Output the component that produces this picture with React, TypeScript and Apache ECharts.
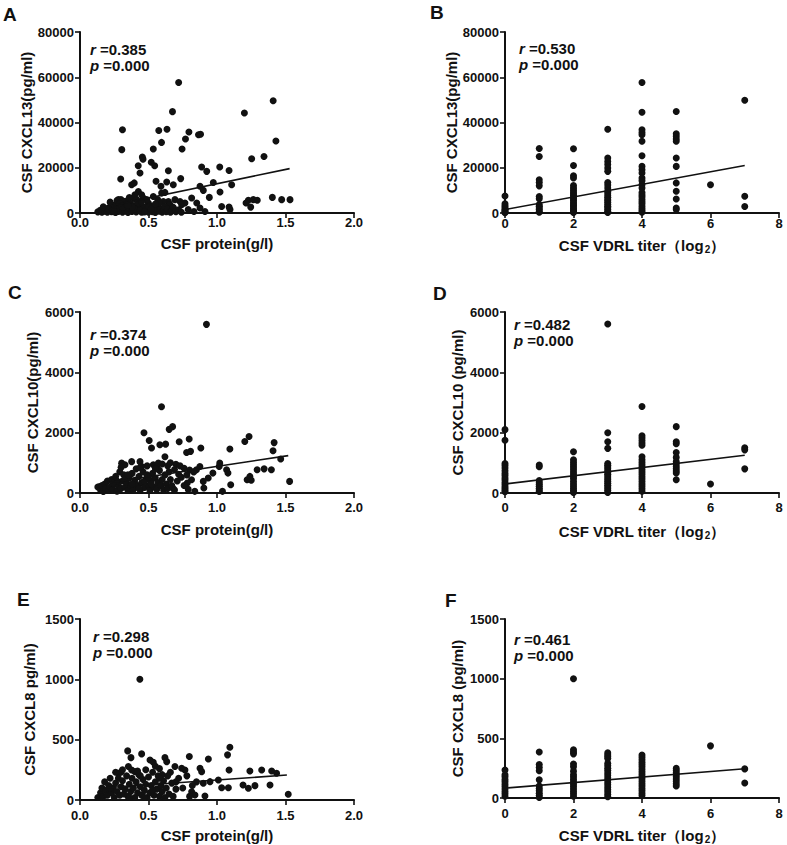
import React, { useEffect, useRef } from 'react';
import * as echarts from 'echarts';

const FONT = '"Liberation Sans", Arial, Helvetica, sans-serif';
const INK = '#111111';

// ---------- data ----------
const titerLevels = [0, 1, 2, 3, 4, 5, 6, 7];

const proteinCXCL13: number[][] = [
  [0.72, 57700], [1.41, 49600], [0.675, 44800], [1.2, 44200], [0.31, 36800], [0.575, 36500], [0.635, 37000],
  [0.795, 35800], [0.77, 32700], [0.865, 34600], [0.88, 34800], [0.595, 31200], [1.43, 31800], [0.305, 28000],
  [0.535, 28300], [0.745, 28300], [0.455, 24700], [0.46, 23800], [0.52, 22400], [0.545, 20900], [0.425, 20900],
  [0.438, 17700], [0.645, 18700], [0.888, 20300], [0.925, 18400], [1.02, 20300], [1.088, 18800], [1.253, 24000],
  [1.343, 25000], [0.297, 15000], [0.377, 12500], [0.396, 13300], [0.555, 14000], [0.591, 11800], [0.633, 13700],
  [0.681, 12500], [0.735, 15200], [0.876, 11800], [0.973, 13500], [1.107, 12500], [0.9, 10000], [1.022, 9300],
  [0.944, 6900], [1.404, 6900], [1.472, 5900], [1.533, 5900], [1.229, 5600], [1.265, 5900], [1.294, 5600],
  [1.212, 4400], [1.246, 2600], [1.034, 2900], [1.088, 2600], [1.095, 1500], [0.815, 6600], [0.852, 4400],
  [0.876, 2200], [0.912, 700], [0.766, 4400], [0.79, 1500], [0.832, 700], [0.693, 5900], [0.73, 5100],
  [0.742, 3700], [0.645, 5100], [0.657, 3700], [0.681, 2200], [0.596, 8800], [0.62, 9100], [0.567, 5900],
  [0.608, 5100], [0.535, 7300], [0.499, 4400], [0.426, 9500], [0.45, 8100], [0.401, 8100], [0.28, 5900],
  [0.299, 5900], [0.389, 6600], [0.414, 5900], [0.462, 6600], [0.487, 5900],
  [0.13, 500], [0.15, 1200], [0.16, 300], [0.18, 800], [0.19, 2000], [0.2, 400], [0.21, 1500], [0.22, 2800],
  [0.23, 600], [0.24, 1000], [0.25, 3500], [0.26, 200], [0.27, 1800], [0.28, 700], [0.29, 2500], [0.3, 1200],
  [0.31, 400], [0.32, 3000], [0.33, 900], [0.34, 1600], [0.35, 200], [0.36, 2200], [0.37, 4200], [0.38, 700],
  [0.39, 1300], [0.4, 3000], [0.41, 500], [0.42, 2000], [0.43, 1000], [0.44, 3800], [0.45, 300], [0.46, 1500],
  [0.47, 2600], [0.48, 800], [0.49, 1900], [0.5, 400], [0.51, 3200], [0.52, 1100], [0.53, 600], [0.54, 2400],
  [0.55, 200], [0.56, 1500], [0.57, 3500], [0.58, 800], [0.59, 2000], [0.6, 400], [0.61, 1200], [0.62, 2800],
  [0.63, 600], [0.64, 1700], [0.66, 300], [0.67, 1000], [0.68, 2500], [0.7, 600], [0.72, 1400], [0.74, 300],
  [0.22, 4800], [0.27, 5500], [0.33, 5200], [0.36, 6800], [0.42, 4500], [0.17, 2800], [0.31, 2600], [0.4, 1800],
  [0.5, 2500], [0.34, 4000], [0.45, 5000], [0.25, 600], [0.38, 2600], [0.44, 1200], [0.52, 1800], [0.58, 4500],
  [0.47, 500], [0.29, 4200], [0.35, 3400], [0.55, 4000],
];

const cxcl13ByTiter: number[][] = [
  [7500, 4100, 3200, 2500, 1700, 1300, 800, 450, 100],
  [28500, 25000, 14700, 13500, 12000, 7300, 6300, 3700, 3000, 2200, 1500, 700, 300],
  [28400, 21000, 16500, 15500, 12100, 11000, 10100, 9200, 8400, 7700, 7000, 6200, 5500, 4700, 4000, 3300, 2700, 1900, 1200, 600, 200],
  [37000, 24300, 22800, 21400, 19900, 18400, 13500, 12400, 11000, 9600, 8800, 7800, 7000, 6100, 5400, 4600, 3800, 3000, 2300, 1500, 800, 200],
  [57700, 44500, 36800, 35600, 34600, 31700, 25300, 20600, 19100, 17700, 15500, 14300, 12500, 11000, 9100, 8000, 7100, 6000, 5000, 4100, 3000, 2000, 1100, 300],
  [44900, 35000, 33900, 32700, 31700, 24300, 20600, 13300, 9600, 6200, 2200, 1500],
  [12500],
  [49800, 7400, 2900],
];

const proteinCXCL10: number[][] = [
  [0.923, 5590], [0.595, 2860], [0.676, 2200], [0.651, 2110], [0.467, 2000], [0.505, 1740], [0.522, 1490],
  [0.583, 1600], [0.625, 1620], [0.724, 1700], [0.797, 1790], [0.778, 1340], [0.807, 1380], [0.882, 1490],
  [1.094, 1460], [1.203, 1710], [1.234, 1870], [1.417, 1670], [1.409, 1400], [1.53, 385], [1.465, 1130],
  [1.293, 770], [1.344, 800], [1.397, 770], [1.22, 440], [1.24, 550], [1.25, 420], [1.1, 275], [1.07, 770],
  [1.08, 660], [1.02, 990], [1.016, 880], [0.97, 660], [0.936, 495], [0.9, 385], [0.904, 165], [0.838, 55],
  [1.04, 55], [0.814, 440], [0.783, 330], [0.85, 770], [0.875, 880],
  [0.304, 990], [0.328, 935], [0.377, 1040], [0.438, 1040], [0.45, 880], [0.535, 935], [0.572, 990], [0.6, 960],
  [0.64, 900], [0.66, 1000], [0.7, 950], [0.73, 900], [0.76, 820], [0.8, 760], [0.72, 620], [0.74, 520],
  [0.78, 600], [0.69, 780], [0.65, 700], [0.83, 700], [0.62, 1200], [0.56, 850], [0.71, 400], [0.76, 250],
  [0.79, 120], [0.68, 150],
  [0.13, 200], [0.15, 100], [0.16, 250], [0.17, 50], [0.18, 300], [0.19, 150], [0.2, 400], [0.21, 80],
  [0.22, 200], [0.23, 450], [0.24, 120], [0.25, 300], [0.26, 550], [0.27, 60], [0.28, 250], [0.29, 700],
  [0.3, 150], [0.31, 400], [0.32, 600], [0.33, 200], [0.34, 350], [0.35, 80], [0.36, 500], [0.37, 250],
  [0.38, 650], [0.39, 120], [0.4, 420], [0.41, 800], [0.42, 250], [0.43, 550], [0.44, 100], [0.45, 350],
  [0.46, 700], [0.47, 180], [0.48, 450], [0.49, 600], [0.5, 250], [0.51, 80], [0.52, 400], [0.53, 650],
  [0.54, 200], [0.55, 500], [0.56, 120], [0.57, 350], [0.58, 750], [0.59, 250], [0.6, 450], [0.61, 100],
  [0.62, 600], [0.63, 300], [0.64, 150], [0.66, 450], [0.67, 250], [0.69, 100], [0.27, 400], [0.33, 480],
  [0.4, 280], [0.47, 380], [0.52, 300], [0.35, 600], [0.24, 330], [0.44, 850], [0.49, 900], [0.3, 850],
  [0.55, 800], [0.38, 300], [0.43, 150], [0.5, 520],
];

const cxcl10ByTiter: number[][] = [
  [2100, 1750, 980, 910, 830, 740, 650, 580, 500, 430, 350, 280, 210, 150, 90, 40],
  [930, 870, 410, 340, 280, 220, 160, 100, 50],
  [1370, 1100, 1020, 940, 860, 790, 700, 620, 540, 470, 380, 300, 220, 150, 80, 20],
  [5600, 2000, 1700, 1480, 980, 920, 860, 800, 740, 680, 620, 560, 500, 440, 380, 320, 260, 200, 140, 80, 20],
  [2870, 1900, 1820, 1740, 1660, 1580, 1200, 1100, 1020, 940, 860, 780, 700, 620, 540, 460, 380, 300, 220, 140, 60],
  [2200, 1700, 1630, 1340, 1180, 1040, 960, 880, 800, 730, 660, 440],
  [300],
  [1500, 1430, 800],
];

const proteinCXCL8: number[][] = [
  [0.437, 1000], [1.094, 437], [1.077, 374], [0.348, 407], [0.372, 351], [0.45, 382], [0.511, 332], [0.535, 313],
  [0.62, 351], [0.633, 318], [0.798, 360], [0.937, 340], [0.353, 277], [0.377, 249], [0.401, 235], [0.28, 222],
  [0.299, 230], [0.693, 277], [0.766, 249], [0.742, 263], [0.876, 263], [0.888, 235], [1.088, 249], [1.24, 241],
  [1.326, 249], [1.399, 241], [1.435, 222], [0.9, 139], [0.949, 152], [1.01, 166], [1.034, 102], [1.083, 102],
  [1.19, 124], [1.229, 97], [1.277, 119], [1.387, 124], [1.52, 47], [0.815, 69], [0.839, 41], [0.912, 33],
  [0.85, 150], [0.82, 120], [0.78, 200], [0.72, 180], [0.7, 150], [0.75, 100], [0.8, 30], [0.66, 230],
  [0.58, 260], [0.6, 210], [0.55, 280],
  [0.13, 20], [0.15, 60], [0.16, 100], [0.17, 30], [0.18, 150], [0.19, 80], [0.2, 40], [0.21, 120], [0.22, 180],
  [0.23, 60], [0.24, 100], [0.25, 20], [0.26, 140], [0.27, 70], [0.28, 180], [0.29, 40], [0.3, 110], [0.31, 160],
  [0.32, 50], [0.33, 90], [0.34, 200], [0.35, 30], [0.36, 130], [0.37, 70], [0.38, 180], [0.39, 100], [0.4, 20],
  [0.41, 150], [0.42, 60], [0.43, 210], [0.44, 110], [0.45, 40], [0.46, 170], [0.47, 80], [0.48, 130], [0.49, 20],
  [0.5, 190], [0.51, 60], [0.52, 120], [0.53, 230], [0.54, 40], [0.55, 150], [0.56, 90], [0.57, 200], [0.58, 30],
  [0.59, 120], [0.6, 70], [0.61, 160], [0.62, 20], [0.63, 100], [0.64, 200], [0.65, 50], [0.67, 140], [0.68, 30],
  [0.7, 90], [0.26, 230], [0.31, 250], [0.42, 240], [0.48, 250], [0.36, 20], [0.44, 200], [0.22, 100],
  [0.53, 80], [0.47, 20], [0.58, 180],
];

const cxcl8ByTiter: number[][] = [
  [235, 195, 178, 155, 137, 115, 96, 75, 55, 35, 15],
  [385, 280, 255, 228, 152, 100, 80, 60, 40, 20, 5],
  [1000, 405, 385, 370, 285, 262, 225, 195, 176, 155, 135, 115, 96, 75, 55, 35, 15],
  [378, 360, 345, 330, 290, 270, 250, 231, 210, 190, 170, 150, 130, 110, 90, 70, 50, 30, 10],
  [360, 342, 320, 300, 280, 262, 240, 220, 200, 180, 161, 140, 120, 100, 80, 60, 40, 20],
  [248, 230, 212, 195, 178, 160, 140, 120, 100],
  [437],
  [244, 125],
];

// regression lines: [start, end]
const fitProteinCXCL13 = [[0.13, 2000], [1.53, 19600]];
const fitTiterCXCL13 = [[0, 1500], [7, 21000]];
const fitProteinCXCL10 = [[0.13, 285], [1.52, 1240]];
const fitTiterCXCL10 = [[0, 300], [7, 1250]];
const fitProteinCXCL8 = [[0.14, 97], [1.51, 207]];
const fitTiterCXCL8 = [[0, 83], [7, 245]];

const rValues = ['0.385', '0.530', '0.374', '0.482', '0.298', '0.461'];
const pValues = ['0.000', '0.000', '0.000', '0.000', '0.000', '0.000'];

const byTiter = (groups: number[][]) =>
  groups.flatMap((vals, i) => vals.map((v) => [titerLevels[i], v]));

// ---------- layout ----------
const proteinAxis = { max: 2, interval: 0.5, dec: 1, name: 'CSF protein(g/l)' };
const titerAxis = { max: 8, interval: 2, dec: 0, name: 'CSF VDRL titer（log{sub|2}）' };

const panels = [
  { letter: 'A', lx: 3, ly: 14, grid: { left: 80, top: 32, width: 274, height: 181 }, pts: proteinCXCL13, fit: fitProteinCXCL13, xa: proteinAxis, yMax: 80000, yInt: 20000, yName: 'CSF CXCL13(pg/ml)', yGap: 45, xLabM: 3, xGap: 23, sx: 90, sy: 49 },
  { letter: 'B', lx: 430, ly: 12, grid: { left: 505, top: 32, width: 274, height: 181 }, pts: byTiter(cxcl13ByTiter), fit: fitTiterCXCL13, xa: titerAxis, yMax: 80000, yInt: 20000, yName: 'CSF CXCL13(pg/ml)', yGap: 43, xLabM: 4, xGap: 23, sx: 519, sy: 48 },
  { letter: 'C', lx: 8, ly: 292, grid: { left: 80, top: 312, width: 274, height: 181 }, pts: proteinCXCL10, fit: fitProteinCXCL10, xa: proteinAxis, yMax: 6000, yInt: 2000, yName: 'CSF CXCL10(pg/ml)', yGap: 40, xLabM: 8, xGap: 29, sx: 90, sy: 334 },
  { letter: 'D', lx: 433, ly: 293, grid: { left: 505, top: 312, width: 274, height: 181 }, pts: byTiter(cxcl10ByTiter), fit: fitTiterCXCL10, xa: titerAxis, yMax: 6000, yInt: 2000, yName: 'CSF CXCL10 (pg/ml)', yGap: 40, xLabM: 8, xGap: 29, sx: 514, sy: 324 },
  { letter: 'E', lx: 17, ly: 599, grid: { left: 80, top: 619, width: 274, height: 181 }, pts: proteinCXCL8, fit: fitProteinCXCL8, xa: proteinAxis, yMax: 1500, yInt: 500, yName: 'CSF CXCL8 pg/ml)', yGap: 43, xLabM: 9, xGap: 28, sx: 93, sy: 636 },
  { letter: 'F', lx: 445, ly: 600, grid: { left: 505, top: 619, width: 274, height: 181 }, pts: byTiter(cxcl8ByTiter), fit: fitTiterCXCL8, xa: titerAxis, yMax: 1500, yInt: 500, yName: 'CSF CXCL8 (pg/ml)', yGap: 40, xLabM: 9, xGap: 28, sx: 514, sy: 639 },
];

function buildOption() {
  const grid: any[] = [];
  const xAxis: any[] = [];
  const yAxis: any[] = [];
  const series: any[] = [];
  const graphic: any[] = [];

  const axisCommon = {
    axisLine: { show: true, lineStyle: { color: INK, width: 2 } },
    axisTick: { show: true, length: 5, lineStyle: { color: INK, width: 1.6 } },
    splitLine: { show: false },
  };

  panels.forEach((p, i) => {
    grid.push({ ...p.grid, containLabel: false });
    xAxis.push({
      ...axisCommon,
      gridIndex: i,
      type: 'value',
      min: 0,
      max: p.xa.max,
      interval: p.xa.interval,
      axisLabel: {
        color: INK, fontSize: 13, fontWeight: 'bold', fontFamily: FONT, margin: p.xLabM,
        formatter: (v: number) => v.toFixed(p.xa.dec),
      },
      name: p.xa.name,
      nameLocation: 'middle',
      nameGap: p.xGap,
      nameTextStyle: {
        color: INK, fontSize: 15, fontWeight: 'bold', fontFamily: FONT,
        rich: { sub: { fontSize: 10, fontWeight: 'bold', fontFamily: FONT, color: INK, padding: [8, 0, 0, 1] } },
      },
    });
    yAxis.push({
      ...axisCommon,
      gridIndex: i,
      type: 'value',
      min: 0,
      max: p.yMax,
      interval: p.yInt,
      axisLabel: {
        color: INK, fontSize: 13, fontWeight: 'bold', fontFamily: FONT, margin: 6,
        formatter: (v: number) => String(v),
      },
      name: p.yName,
      nameLocation: 'middle',
      nameGap: p.yGap,
      nameTextStyle: { color: INK, fontSize: 15, fontWeight: 'bold', fontFamily: FONT },
    });
    series.push({
      type: 'scatter',
      xAxisIndex: i,
      yAxisIndex: i,
      data: p.pts,
      symbol: 'circle',
      symbolSize: 7,
      itemStyle: { color: INK, opacity: 1 },
      silent: true,
    });
    series.push({
      type: 'line',
      xAxisIndex: i,
      yAxisIndex: i,
      data: p.fit,
      showSymbol: false,
      symbol: 'none',
      lineStyle: { color: INK, width: 1.6 },
      silent: true,
      z: 3,
    });
    graphic.push({
      type: 'text', x: p.lx, y: p.ly,
      style: { text: p.letter, fill: INK, fontSize: 19, fontWeight: 'bold', fontFamily: FONT, verticalAlign: 'middle', align: 'left' },
    });
    const rich = { i: { fontStyle: 'italic', fontWeight: 'bold', fontSize: 15, fontFamily: FONT, fill: INK, color: INK } };
    graphic.push({
      type: 'text', x: p.sx, y: p.sy,
      style: { text: `{i|r} =${rValues[i]}`, rich, fill: INK, fontSize: 15, fontWeight: 'bold', fontFamily: FONT, verticalAlign: 'middle', align: 'left' },
    });
    graphic.push({
      type: 'text', x: p.sx, y: p.sy + 16,
      style: { text: `{i|p} =${pValues[i]}`, rich, fill: INK, fontSize: 15, fontWeight: 'bold', fontFamily: FONT, verticalAlign: 'middle', align: 'left' },
    });
  });

  return {
    animation: false,
    backgroundColor: '#ffffff',
    grid,
    xAxis,
    yAxis,
    series,
    graphic,
  };
}

export default function App() {
  const ref = useRef<HTMLDivElement>(null);
  useEffect(() => {
    if (!ref.current) return;
    const chart = echarts.init(ref.current, undefined, { renderer: 'svg' });
    chart.setOption(buildOption() as any);
    return () => chart.dispose();
  }, []);
  return (
    <div
      ref={ref}
      style={{ position: 'absolute', left: 0, top: 0, width: 787, height: 845, background: '#fff' }}
    />
  );
}
